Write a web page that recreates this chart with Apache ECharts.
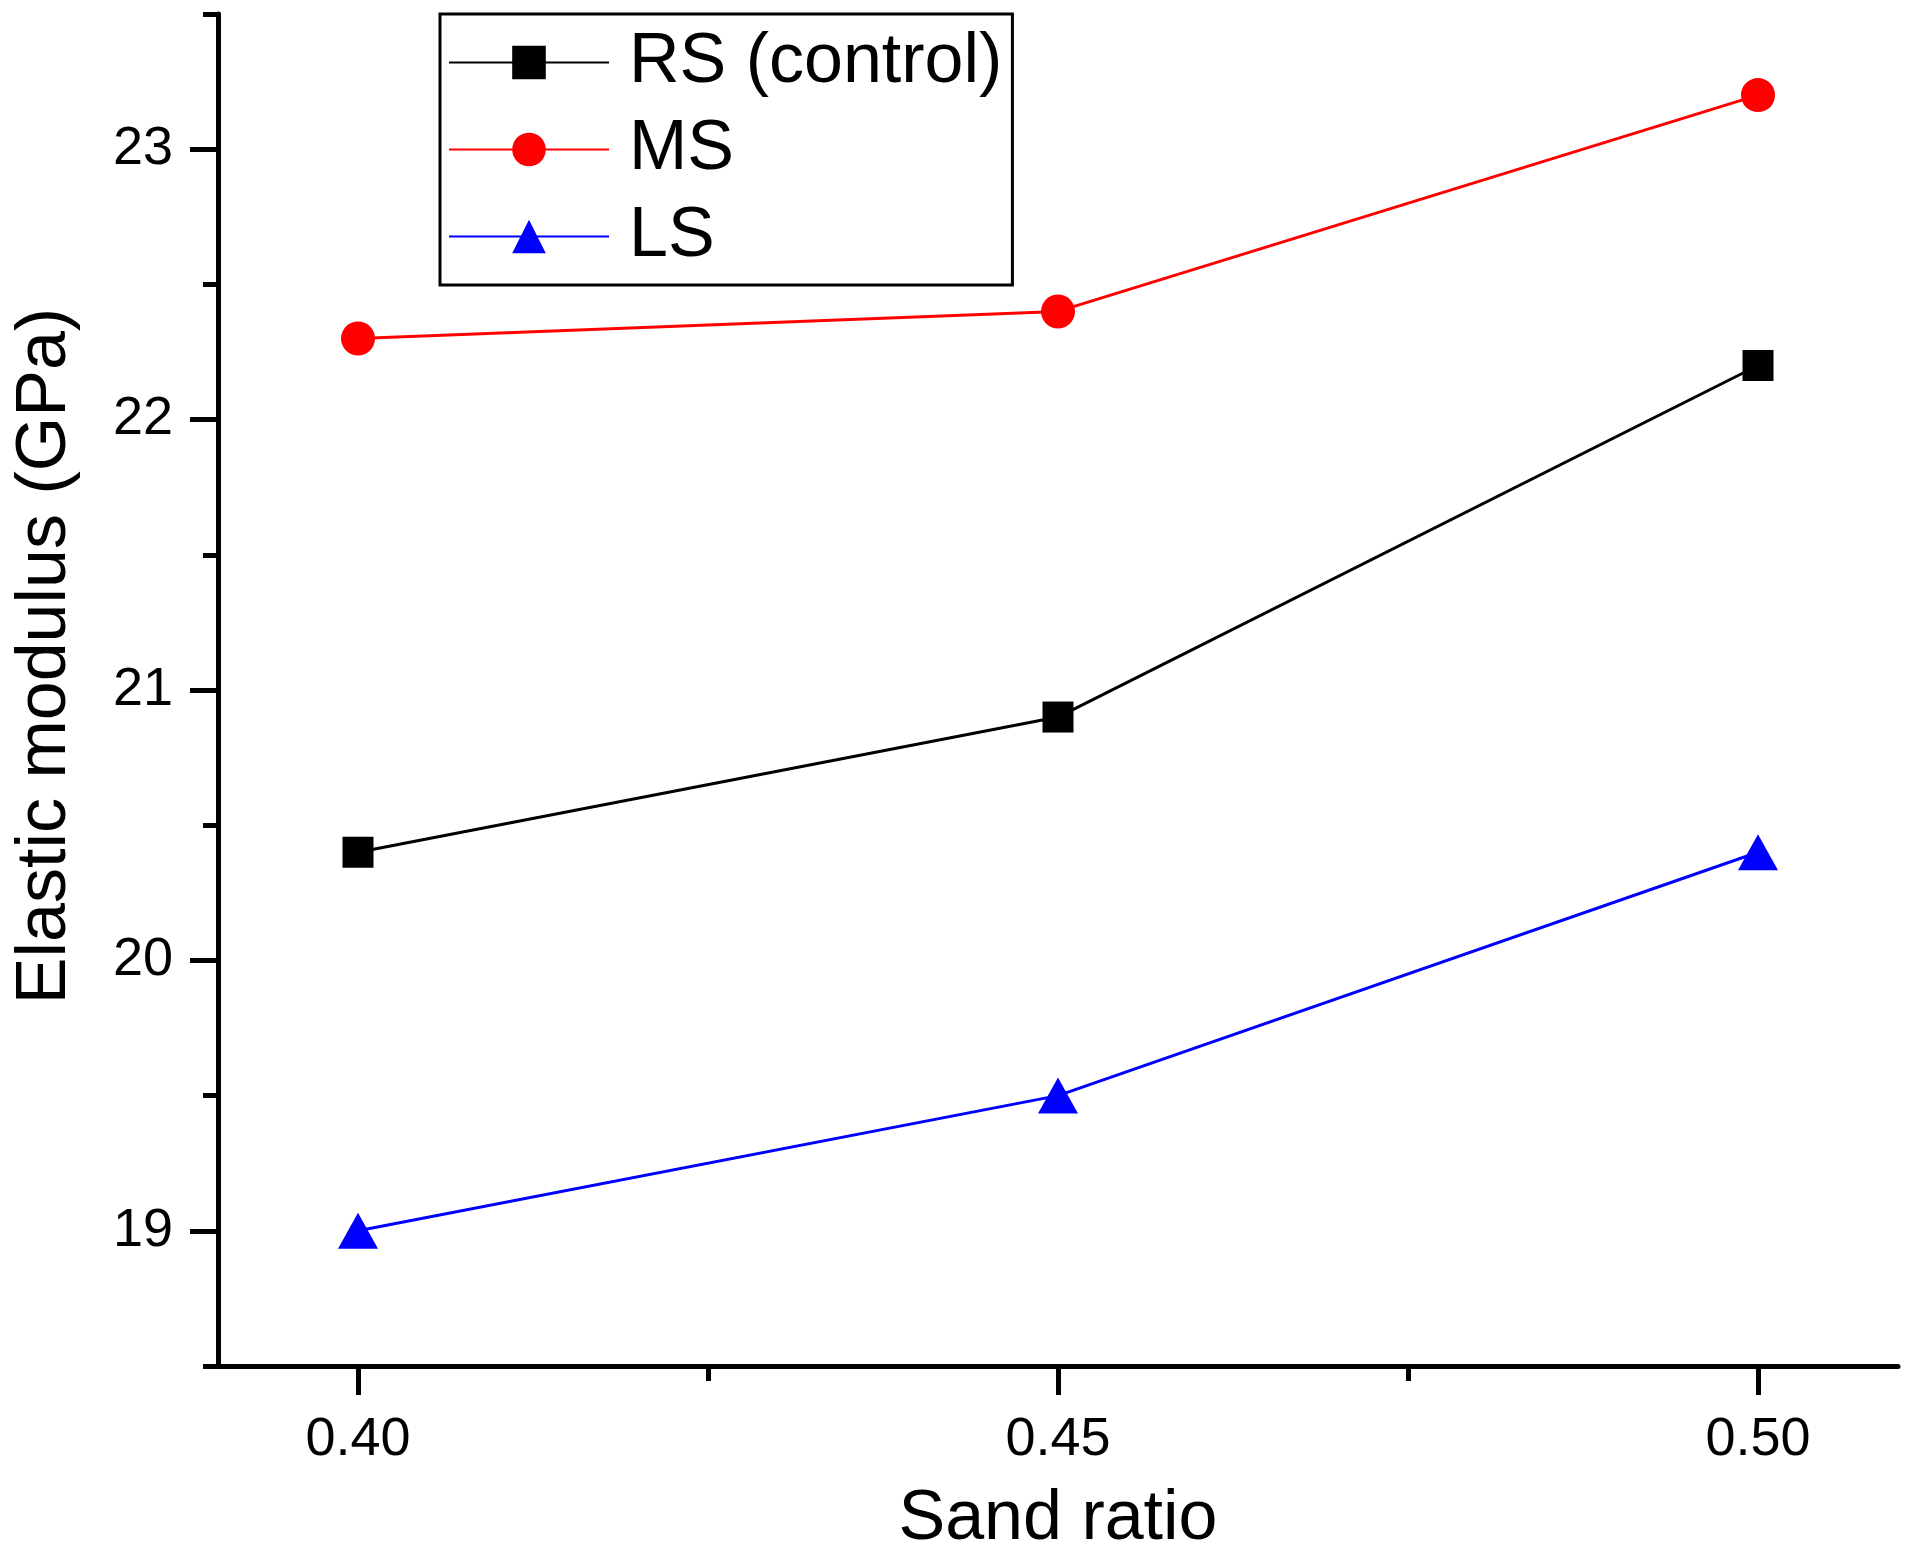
<!DOCTYPE html>
<html>
<head>
<meta charset="utf-8">
<script src="https://cdn.jsdelivr.net/npm/echarts@6/dist/echarts.min.js"></script>
<style>
html,body{margin:0;padding:0;background:#fff;}
#chart{width:1912px;height:1563px;}
</style>
</head>
<body>
<div id="chart"></div>
<script>
// ---- data ----
const sandRatio = [0.40, 0.45, 0.50];
const rsControl = [20.4, 20.9, 22.2];
const msValues = [22.3, 22.4, 23.2];
const lsValues = [19.0, 19.5, 20.4];
const xTickLabels = [0.40, 0.45, 0.50];
const xMinorTicks = [0.425, 0.475];
const yTickLabels = [19, 20, 21, 22, 23];
const seriesNames = ['RS (control)', 'MS', 'LS'];

const pairs = (ys) => sandRatio.map((x, i) => [x, ys[i]]);
const FONT = '"Liberation Sans", Arial, sans-serif';

const chart = echarts.init(document.getElementById('chart'), null, {renderer: 'canvas'});
const axisLine = {show: true, onZero: false, lineStyle: {color: '#000', width: 5}};

chart.setOption({
  backgroundColor: '#fff',
  animation: false,
  grid: {left: 218, top: 14, right: 14, bottom: 197, containLabel: false, outerBoundsMode: 'none'},
  legend: {
    orient: 'vertical',
    left: 440, top: 14,
    padding: [13.5, 10, 13.5, 8],
    borderColor: '#000', borderWidth: 3,
    itemWidth: 160, itemHeight: 42, itemGap: 17,
    textStyle: {fontFamily: FONT, fontSize: 70, color: '#000', padding: [0, 0, 0, 15]},
    data: seriesNames
  },
  xAxis: [{
    type: 'value', min: 0.39, max: 0.51,
    name: 'Sand ratio', nameLocation: 'middle', nameGap: 119,
    nameTextStyle: {fontFamily: FONT, fontSize: 70, color: '#000'},
    axisLine: axisLine,
    axisTick: {show: true, inside: false, length: 29, customValues: xTickLabels, lineStyle: {color: '#000', width: 5}},
    axisLabel: {show: true, customValues: xTickLabels, margin: 47, fontFamily: FONT, fontSize: 54, color: '#000',
      formatter: (v) => v.toFixed(2)},
    splitLine: {show: false}
  }, {
    type: 'value', min: 0.39, max: 0.51, position: 'bottom',
    axisLine: {show: false},
    axisTick: {show: true, inside: false, length: 15, customValues: xMinorTicks, lineStyle: {color: '#000', width: 5}},
    axisLabel: {show: false},
    splitLine: {show: false}
  }],
  yAxis: [{
    type: 'value', min: 18.5, max: 23.5,
    name: 'Elastic modulus (GPa)', nameLocation: 'middle', nameRotate: 90, nameGap: 137,
    nameTextStyle: {fontFamily: FONT, fontSize: 70, color: '#000', padding: [0, 0, 0, 68]},
    axisLine: axisLine,
    axisTick: {show: true, inside: false, length: 28, customValues: yTickLabels, lineStyle: {color: '#000', width: 5}},
    axisLabel: {show: true, customValues: yTickLabels, margin: 45, fontFamily: FONT, fontSize: 54, color: '#000'},
    splitLine: {show: false}
  }, {
    type: 'value', min: 18.5, max: 23.5, interval: 0.5, position: 'left',
    axisLine: {show: false},
    axisTick: {show: true, inside: false, length: 15, lineStyle: {color: '#000', width: 5}},
    axisLabel: {show: false},
    splitLine: {show: false}
  }],
  series: [{
    name: seriesNames[0], type: 'line', data: pairs(rsControl),
    symbol: 'rect', symbolSize: 31,
    lineStyle: {color: '#000', width: 3}, itemStyle: {color: '#000'}
  }, {
    name: seriesNames[1], type: 'line', data: pairs(msValues),
    symbol: 'circle', symbolSize: 34,
    lineStyle: {color: '#ff0000', width: 3}, itemStyle: {color: '#ff0000'}
  }, {
    name: seriesNames[2], type: 'line', data: pairs(lsValues),
    symbol: 'triangle', symbolSize: [40, 36],
    lineStyle: {color: '#0000ff', width: 3}, itemStyle: {color: '#0000ff'}
  }]
});
</script>
</body>
</html>
